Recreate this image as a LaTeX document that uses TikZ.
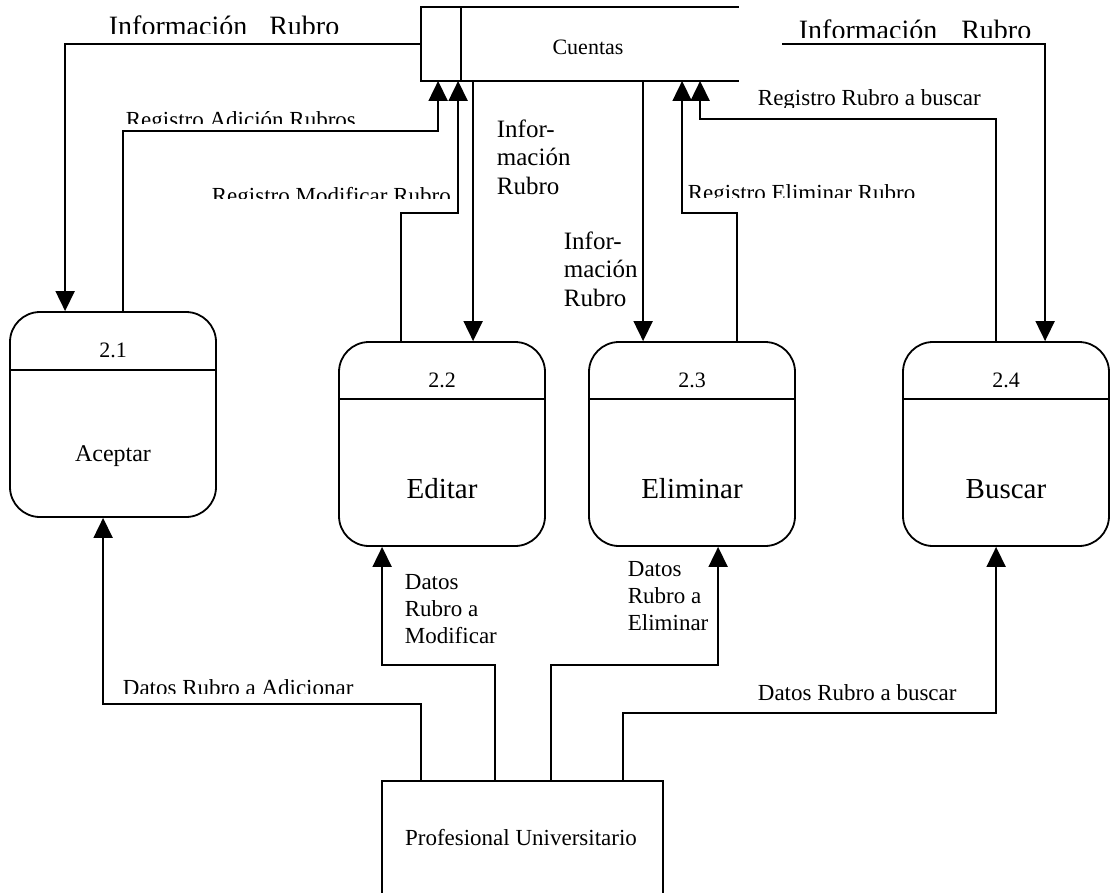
\documentclass[tikz,border=0pt]{standalone}
\usepackage{fontspec}
\setmainfont{Liberation Serif}
\usetikzlibrary{arrows.meta,calc}

\begin{document}
\begin{tikzpicture}[x=1pt,y=-1pt,
  line width=1.8pt,
  flow/.style={draw, line width=1.8pt, -{Triangle[length=20pt,width=19pt]}},
  proc/.style={draw, rounded corners=30pt, minimum width=206pt, minimum height=204pt, inner sep=0pt, line width=1.8pt},
  lbl/.style={inner sep=0pt, anchor=base west},
  ctr/.style={inner sep=0pt, anchor=base},
  small/.style={font=\fontsize{23}{27}\selectfont},
  info/.style={font=\fontsize{25}{28.5}\selectfont, align=left},
  big/.style={font=\fontsize{28}{30}\selectfont},
  pname/.style={font=\fontsize{29}{31}\selectfont},
  pnum/.style={font=\fontsize{22}{24}\selectfont}
]
\useasboundingbox[fill=white] (0,0) rectangle (1111,892);

% data store "Cuentas" (open on the right)
\node[minimum width=316pt, minimum height=72pt, inner sep=0pt] (store) at (580,44) {};
\draw (store.north east) -- (store.north west) -- (store.south west) -- (store.south east);
\draw ($(store.north west)+(40,0)$) -- ($(store.south west)+(40,0)$);
\node[ctr, pnum] (tstore) at (588,54) {Cuentas};

% processes
\node[proc, minimum height=205pt] (p21) at (113,414.5) {};
\node[proc] (p22) at (442,444) {};
\node[proc] (p23) at (692,444) {};
\node[proc] (p24) at (1006,444) {};

\draw ($(p21.north west)+(0,59)$) -- ($(p21.north east)+(0,59)$);
\draw ($(p22.north west)+(0,58)$) -- ($(p22.north east)+(0,58)$);
\draw ($(p23.north west)+(0,58)$) -- ($(p23.north east)+(0,58)$);
\draw ($(p24.north west)+(0,58)$) -- ($(p24.north east)+(0,58)$);

\node[ctr, pnum] (n21) at ($(p21.north)+(0,46)$) {2.1};
\node[ctr, font=\fontsize{24}{26}\selectfont] (l21) at ($(p21.north)+(0,150)$) {Aceptar};
\node[ctr, pnum] (n22) at ($(p22.north)+(0,46)$) {2.2};
\node[ctr, pname] (l22) at ($(p22.north)+(0,157)$) {Editar};
\node[ctr, pnum] (n23) at ($(p23.north)+(0,46)$) {2.3};
\node[ctr, pname] (l23) at ($(p23.north)+(0,157)$) {Eliminar};
\node[ctr, pnum] (n24) at ($(p24.north)+(0,46)$) {2.4};
\node[ctr, pname] (l24) at ($(p24.north)+(0,157)$) {Buscar};

% external entity
\node[draw, minimum width=281pt, minimum height=114pt, inner sep=0pt] (prof) at (522.5,838) {};
\node[ctr, small] (tprof) at (521,845) {Profesional Universitario};

% flows between the store and the processes
\draw[flow] (store.west) -| ($(p21.north west)+(56,0)$);
\draw[flow] ($(p21.north west)+(114,0)$) |- ($(store.south west)+(17,50)$) -- ($(store.south west)+(17,0)$);
\draw[flow] ($(p22.north west)+(63,0)$) |- ($(store.south west)+(37,132)$) -- ($(store.south west)+(37,0)$);
\draw[flow] ($(store.south west)+(52,0)$) -- ($(p22.north west)+(135,0)$);
\draw[flow] ($(store.south west)+(222,0)$) -- ($(p23.north west)+(55,0)$);
\draw[flow] ($(p23.north west)+(149,0)$) |- ($(store.south west)+(261,132)$) -- ($(store.south west)+(261,0)$);
\draw[flow] ($(p24.north west)+(94,0)$) |- ($(store.south west)+(279,38)$) -- ($(store.south west)+(279,0)$);
\coordinate (infoR) at (782,44);
\draw[flow] (infoR) -| ($(p24.north west)+(143,0)$);

% flows from the external entity
\draw[flow] ($(prof.north west)+(40,0)$) |- ($(p21.south west)+(94,186)$) -- ($(p21.south west)+(94,0)$);
\draw[flow] ($(prof.north west)+(114,0)$) |- ($(p22.south west)+(44,118)$) -- ($(p22.south west)+(44,0)$);
\draw[flow] ($(prof.north west)+(170,0)$) |- ($(p23.south west)+(130,118)$) -- ($(p23.south west)+(130,0)$);
\draw[flow] ($(prof.north west)+(242,0)$) |- ($(p24.south west)+(94,166)$) -- ($(p24.south west)+(94,0)$);

% flow labels (some are cut off at the bottom)
\begin{scope}
  \clip (0,0) rectangle (420,33);
  \node[lbl, big] (tinfo1) at (108,35) {Información\hspace{22pt}Rubro};
\end{scope}
\begin{scope}
  \clip (760,0) rectangle (1111,37);
  \node[lbl, big] (tinfo2) at (798,39) {Información\hspace{24pt}Rubro};
\end{scope}
\begin{scope}
  \clip (100,90) rectangle (430,123);
  \node[lbl, small] (tadd) at (125,127) {Registro Adición Rubros};
\end{scope}
\begin{scope}
  \clip (200,170) rectangle (455,198);
  \node[lbl, small] (tmod) at (211,203) {Registro Modificar Rubro};
\end{scope}
\begin{scope}
  \clip (680,170) rectangle (940,197);
  \node[lbl, small] (tdel) at (687,200) {Registro Eliminar Rubro};
\end{scope}
\begin{scope}
  \clip (740,80) rectangle (1000,107);
  \node[lbl, small] (tsrch) at (757,105) {Registro Rubro a buscar};
\end{scope}
\begin{scope}
  \clip (110,660) rectangle (400,693);
  \node[lbl, small] (tdadd) at (122,695) {Datos Rubro a Adicionar};
\end{scope}

% multi-line labels: the base anchor sits on the last line
\node[lbl, info] (tinf22) at (496,194) {Infor-\\mación\\Rubro};
\node[lbl, info] (tinf23) at (563,306) {Infor-\\mación\\Rubro};
\node[lbl, small, align=left] (tdmod) at (404,643) {Datos\\Rubro a\\Modificar};
\node[lbl, small, align=left] (tddel) at (627,630) {Datos\\Rubro a\\Eliminar};
\node[lbl, small] (tdsrch) at (757,700) {Datos Rubro a buscar};

\end{tikzpicture}
\end{document}
